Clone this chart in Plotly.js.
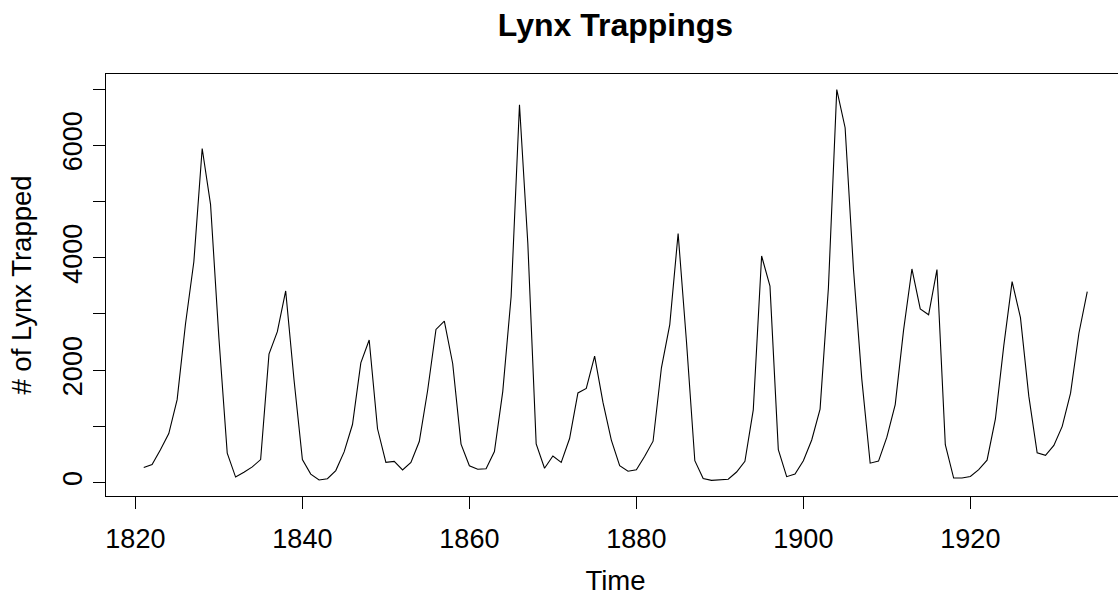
<!DOCTYPE html>
<html>
<head>
<meta charset="utf-8">
<script src="https://cdn.plot.ly/plotly-3.0.1.min.js"></script>
<style>
  html, body { margin: 0; padding: 0; background: #ffffff; overflow: hidden; width: 1118px; height: 596px; }
  #chart { width: 1130px; height: 596px; }
</style>
</head>
<body>
<div id="chart"></div>
<script>
// Annual Canadian lynx trappings, 1821-1934
const years = [
  1821,1822,1823,1824,1825,1826,1827,1828,1829,1830,
  1831,1832,1833,1834,1835,1836,1837,1838,1839,1840,
  1841,1842,1843,1844,1845,1846,1847,1848,1849,1850,
  1851,1852,1853,1854,1855,1856,1857,1858,1859,1860,
  1861,1862,1863,1864,1865,1866,1867,1868,1869,1870,
  1871,1872,1873,1874,1875,1876,1877,1878,1879,1880,
  1881,1882,1883,1884,1885,1886,1887,1888,1889,1890,
  1891,1892,1893,1894,1895,1896,1897,1898,1899,1900,
  1901,1902,1903,1904,1905,1906,1907,1908,1909,1910,
  1911,1912,1913,1914,1915,1916,1917,1918,1919,1920,
  1921,1922,1923,1924,1925,1926,1927,1928,1929,1930,
  1931,1932,1933,1934
];
const lynxTrapped = [
  269, 321, 585, 871, 1475, 2821, 3928, 5943, 4950, 2577,
  523, 98, 184, 279, 409, 2285, 2685, 3409, 1824, 409,
  151, 45, 68, 213, 546, 1033, 2129, 2536, 957, 361,
  377, 225, 360, 731, 1638, 2725, 2871, 2119, 684, 299,
  236, 245, 552, 1623, 3311, 6721, 4254, 687, 255, 473,
  358, 784, 1594, 1676, 2251, 1426, 756, 299, 201, 229,
  469, 736, 2042, 2811, 4431, 2511, 389, 73, 39, 49,
  59, 188, 377, 1292, 4031, 3495, 587, 105, 153, 387,
  758, 1307, 3465, 6991, 6313, 3794, 1836, 345, 382, 808,
  1388, 2713, 3800, 3091, 2985, 3790, 674, 81, 80, 108,
  229, 399, 1132, 2432, 3574, 2935, 1537, 529, 485, 662,
  1000, 1590, 2657, 3396
];
const xTickVals = [1820, 1840, 1860, 1880, 1900, 1920];
const xTickText = ["1820", "1840", "1860", "1880", "1900", "1920"];
const yTickVals = [0, 1000, 2000, 3000, 4000, 5000, 6000, 7000];
const yTickText = ["0", "", "2000", "", "4000", "", "6000", ""];

const FONT = '"Liberation Sans", Arial, Helvetica, sans-serif';

const trace = {
  x: years,
  y: lynxTrapped,
  type: 'scatter',
  mode: 'lines',
  line: { color: '#000000', width: 1.1 },
  hoverinfo: 'x+y'
};

const layout = {
  width: 1130,
  height: 596,
  margin: { l: 106, r: 5, t: 74, b: 100, pad: 0 },
  paper_bgcolor: '#ffffff',
  plot_bgcolor: '#ffffff',
  showlegend: false,
  font: { family: FONT, color: '#000000', size: 27 },
  title: {
    text: 'Lynx Trappings',
    font: { family: FONT, size: 32, weight: 'bold', color: '#000000' },
    x: 0.5, xref: 'paper', xanchor: 'center',
    y: 1 - 25 / 596, yref: 'container', yanchor: 'middle'
  },
  xaxis: {
    range: [1816.48, 1938.52],
    tickmode: 'array',
    tickvals: xTickVals,
    ticktext: xTickText,
    ticks: 'outside', ticklen: 12, tickwidth: 1, tickcolor: '#000000',
    tickfont: { family: FONT, size: 27, color: '#000000' },
    ticklabelstandoff: 7,
    showgrid: false, zeroline: false,
    showline: true, linecolor: '#000000', linewidth: 1, mirror: true,
    title: { text: 'Time', font: { family: FONT, size: 27.5, color: '#000000' }, standoff: 26 },
    automargin: false
  },
  yaxis: {
    range: [-239, 7269],
    tickmode: 'array',
    tickvals: yTickVals,
    ticktext: yTickText,
    tickangle: -90,
    ticks: 'outside', ticklen: 12, tickwidth: 1, tickcolor: '#000000',
    tickfont: { family: FONT, size: 27, color: '#000000' },
    showgrid: false, zeroline: false,
    showline: true, linecolor: '#000000', linewidth: 1, mirror: true,
    title: { text: '# of Lynx Trapped', font: { family: FONT, size: 27.5, color: '#000000' }, standoff: 18 },
    automargin: false
  }
};

Plotly.newPlot('chart', [trace], layout, { displayModeBar: false, staticPlot: false });
</script>
</body>
</html>
